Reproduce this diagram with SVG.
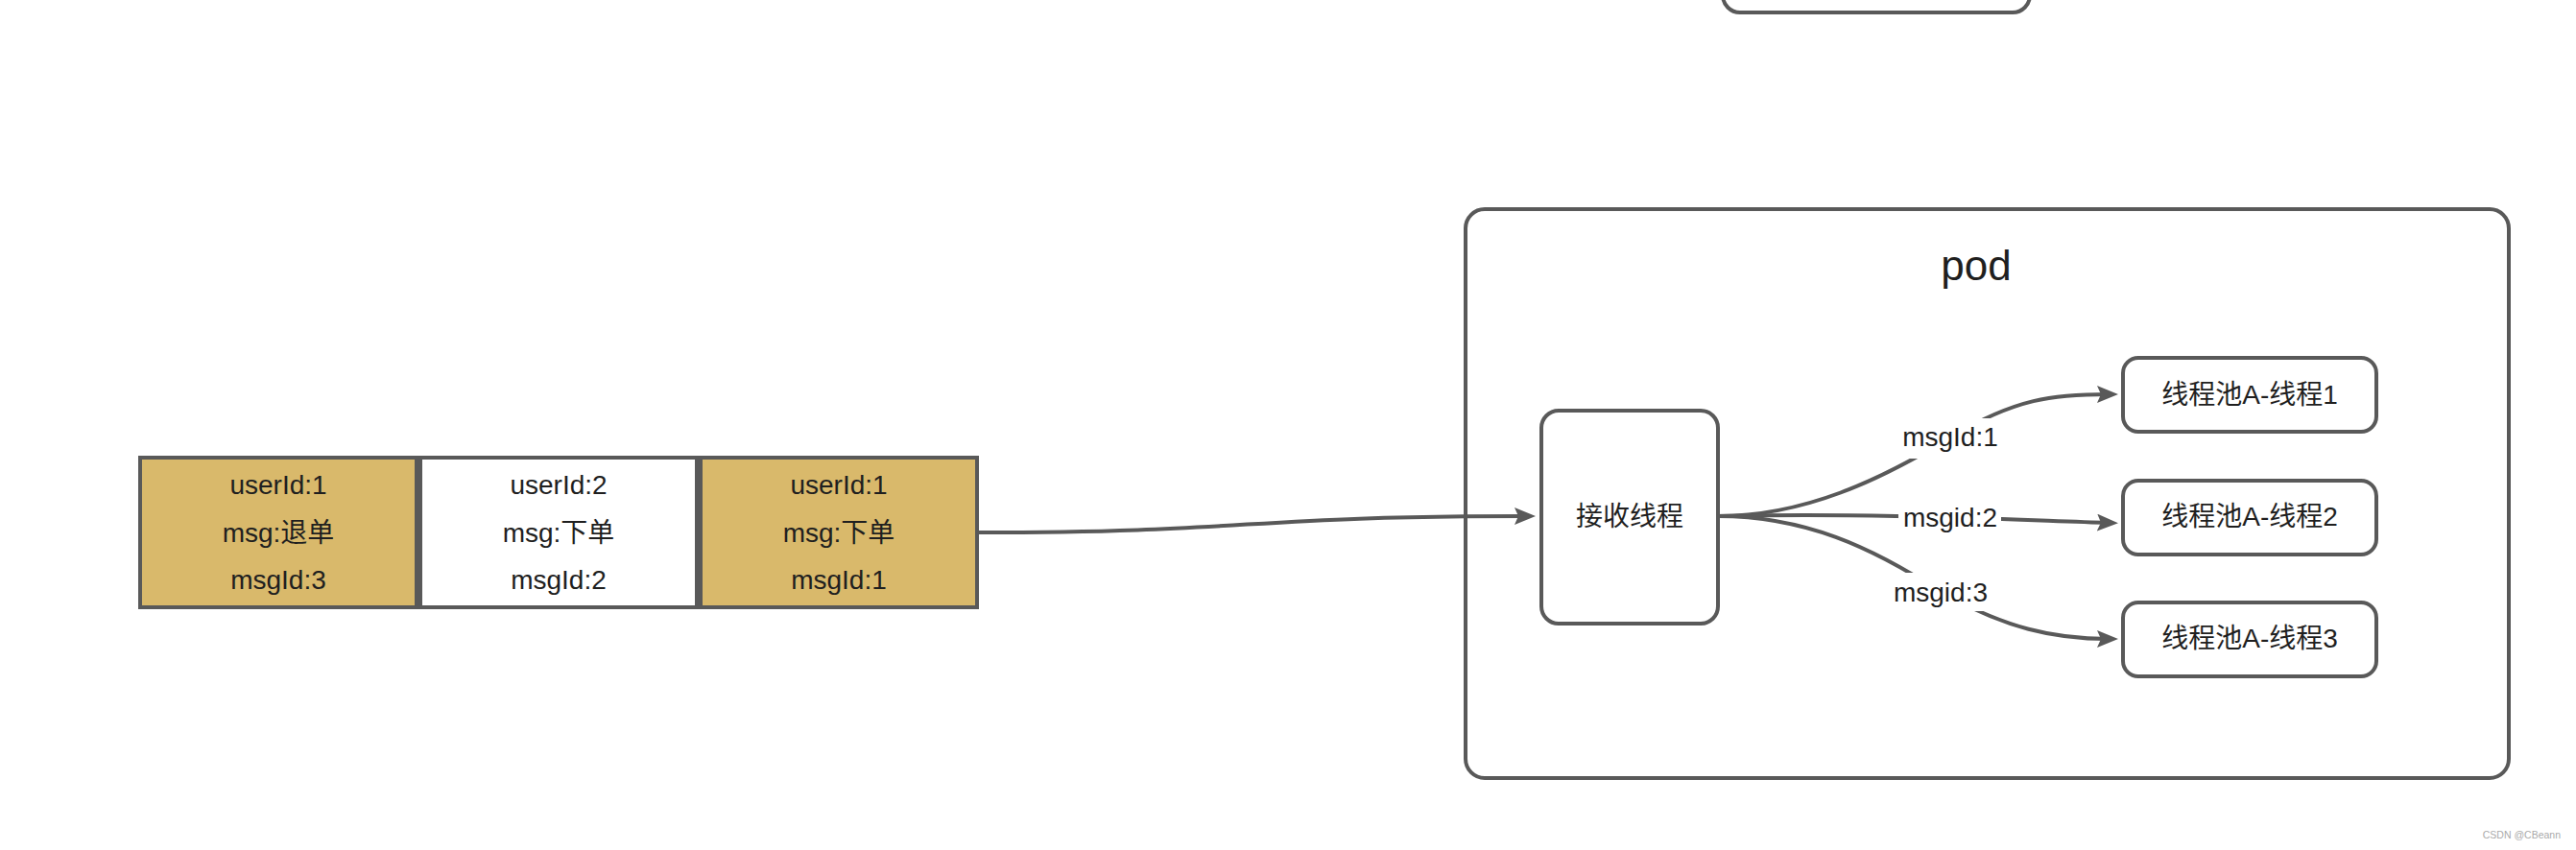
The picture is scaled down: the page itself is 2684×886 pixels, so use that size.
<svg xmlns="http://www.w3.org/2000/svg" width="2684" height="886" viewBox="0 0 2684 886">
<style>
  .box{stroke:#595959;stroke-width:4}
  .gold{fill:#d9b96b}
  .white{fill:#ffffff}
  .rnd{fill:#ffffff;stroke:#595959;stroke-width:4}
  .t{font-family:"Liberation Sans","Noto Sans CJK SC",sans-serif;font-size:28px;fill:#1f1f1f;text-anchor:middle}
  .edge{fill:none;stroke:#595959;stroke-width:4}
  .lblbg{fill:#ffffff}
</style>
<defs>
  <marker id="arr" markerUnits="userSpaceOnUse" markerWidth="24" markerHeight="20" refX="12" refY="9" orient="auto">
    <path d="M0,0 L22,9 L0,18 L4,9 Z" fill="#595959"/>
  </marker>
</defs>
<rect width="2684" height="886" fill="#ffffff"/>

<g id="topbox">
  <rect class="rnd" x="1795" y="-70" width="320" height="83" rx="18"/>
</g>

<g id="pod">
  <rect class="rnd" x="1527" y="218" width="1087" height="593" rx="20"/>
  <text class="t" x="2059" y="292" style="font-size:44px">pod</text>
</g>

<g id="msg3">
  <rect class="box gold" x="146" y="477" width="288" height="156"/>
  <text class="t" x="290" y="515">userId:1</text>
  <text class="t" x="290" y="565">msg:退单</text>
  <text class="t" x="290" y="614">msgId:3</text>
</g>
<g id="msg2">
  <rect class="box white" x="438" y="477" width="288" height="156"/>
  <text class="t" x="582" y="515">userId:2</text>
  <text class="t" x="582" y="565">msg:下单</text>
  <text class="t" x="582" y="614">msgId:2</text>
</g>
<g id="msg1">
  <rect class="box gold" x="730" y="477" width="288" height="156"/>
  <text class="t" x="874" y="515">userId:1</text>
  <text class="t" x="874" y="565">msg:下单</text>
  <text class="t" x="874" y="614">msgId:1</text>
</g>

<g id="receiver">
  <rect class="rnd" x="1606" y="428" width="184" height="222" rx="18"/>
  <text class="t" x="1698" y="548">接收线程</text>
</g>

<g id="thread1">
  <rect class="rnd" x="2212" y="373" width="264" height="77" rx="16"/>
  <text class="t" x="2344" y="421">线程池A-线程1</text>
</g>
<g id="thread2">
  <rect class="rnd" x="2212" y="501" width="264" height="77" rx="16"/>
  <text class="t" x="2344" y="548">线程池A-线程2</text>
</g>
<g id="thread3">
  <rect class="rnd" x="2212" y="628" width="264" height="77" rx="16"/>
  <text class="t" x="2344" y="675">线程池A-线程3</text>
</g>

<g id="connectors">
  <path class="edge" marker-end="url(#arr)" d="M1020,555 C1300,555 1300,538 1590,538"/>
  <path class="edge" marker-end="url(#arr)" d="M1790,538 C1880,538 1960,500 2032,456 C2100,415 2140,411 2197,411"/>
  <path class="edge" marker-end="url(#arr)" d="M1790,538 C1950,534 2100,542 2197,545"/>
  <path class="edge" marker-end="url(#arr)" d="M1790,538 C1880,538 1950,570 2022,617 C2090,655 2140,666 2197,666"/>
  <rect class="lblbg" x="1982" y="436" width="100" height="42"/>
  <text class="t" x="2032" y="465">msgId:1</text>
  <rect class="lblbg" x="1978" y="523" width="107" height="32"/>
  <text class="t" x="2032" y="549">msgid:2</text>
  <rect class="lblbg" x="1964" y="597" width="116" height="40"/>
  <text class="t" x="2022" y="627">msgid:3</text>
</g>

<text x="2668" y="874" style="font-family:'Liberation Sans',sans-serif;font-size:10.5px;fill:#aaaaaa;text-anchor:end">CSDN @CBeann</text>
</svg>
